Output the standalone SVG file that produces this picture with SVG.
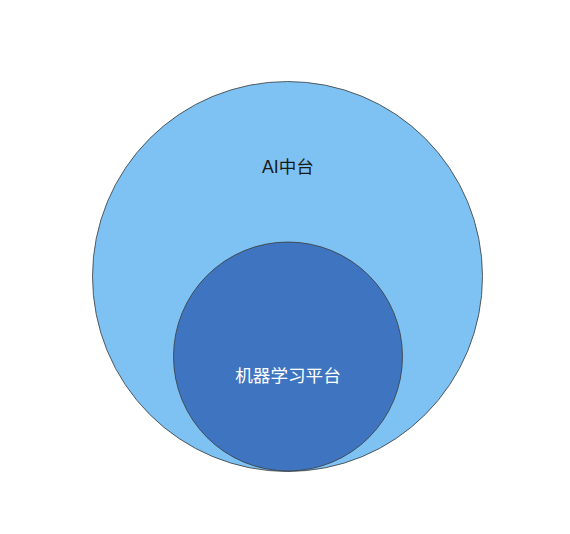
<svg xmlns="http://www.w3.org/2000/svg" width="570" height="534" viewBox="0 0 570 534">
<style>
.c{stroke:#3a3a3a;stroke-width:0.8}
.t{font-family:"Liberation Sans","Noto Sans CJK SC",sans-serif;font-size:17.6px;text-anchor:middle}
</style>
<rect width="570" height="534" fill="#ffffff"/>
<g id="ai-platform">
<circle class="c" cx="287.5" cy="276.5" r="195" fill="#7DC2F2"/>
<text class="t" x="288" y="173" fill="#1a1a1a">AI中台</text>
</g>
<g id="ml-platform">
<circle class="c" cx="288" cy="356.5" r="114.5" fill="#3F75C0"/>
<text class="t" x="288" y="381.5" fill="#ffffff">机器学习平台</text>
</g>
<g id="connectors"></g>
</svg>
